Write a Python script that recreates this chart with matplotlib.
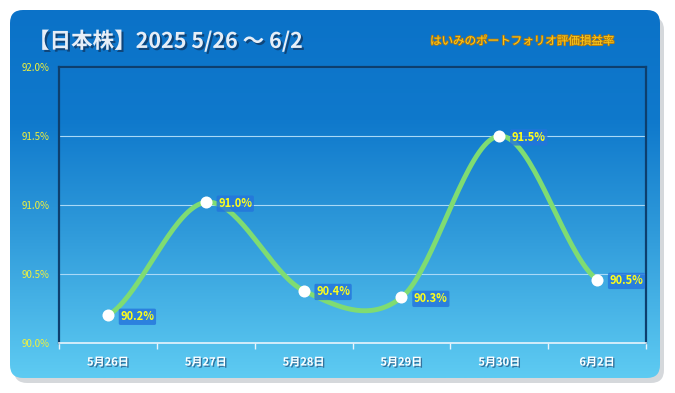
import numpy as np
import matplotlib
matplotlib.use('Agg')
import matplotlib.pyplot as plt
from matplotlib.patches import FancyBboxPatch
from matplotlib.colors import LinearSegmentedColormap
import matplotlib.patheffects as pe

plt.rcParams['font.family'] = ['Noto Sans CJK JP', 'DejaVu Sans']

dates = ['5月26日', '5月27日', '5月28日', '5月29日', '5月30日', '6月2日']
values = [90.20, 91.02, 90.38, 90.33, 91.50, 90.46]
labels = ['90.2%', '91.0%', '90.4%', '90.3%', '91.5%', '90.5%']
yticks = [90.0, 90.5, 91.0, 91.5, 92.0]

W, H = 675, 393
fig = plt.figure(figsize=(W / 100, H / 100), dpi=100)
fig.patch.set_facecolor('white')

# background panel with gradient and shadow
bg = fig.add_axes([0, 0, 1, 1], zorder=-1)
bg.set_xlim(0, W)
bg.set_ylim(0, H)
bg.axis('off')
shadow = FancyBboxPatch((14, 10), 650, 366, boxstyle='round,pad=0,rounding_size=13',
                        fc='#c4c8cd', ec='none', alpha=0.7, zorder=0)
bg.add_patch(shadow)
panel = FancyBboxPatch((10, 15), 650, 368, boxstyle='round,pad=0,rounding_size=13',
                       fc='none', ec='none', zorder=0)
bg.add_patch(panel)
cmap = LinearSegmentedColormap.from_list('bluegrad', [
    (0.0, '#0b72c8'), (0.3, '#0f79cc'), (0.6, '#2f9ada'), (1.0, '#5ecbf2')])
grad = np.linspace(0, 1, 256).reshape(-1, 1)
im = bg.imshow(grad, cmap=cmap, extent=[10, 660, 15, 383], origin='upper',
               aspect='auto', zorder=2)
im.set_clip_path(panel)

# plot area
ax = fig.add_axes([59 / W, 50 / H, 587 / W, 276 / H])
ax.set_facecolor('none')
x = np.arange(len(values))

# smoothed line through the points (Catmull-Rom, like a spreadsheet smooth line)
pts = np.array(values)
ext = np.concatenate([[2 * pts[0] - pts[1]], pts, [2 * pts[-1] - pts[-2]]])
xs, ys = [], []
for i in range(len(pts) - 1):
    p0, p1, p2, p3 = ext[i], ext[i + 1], ext[i + 2], ext[i + 3]
    m1 = (p2 - p0) / 2
    m2 = (p3 - p1) / 2
    if i == 0:
        m1 = (p2 - p1) * 0.5
    if i == len(pts) - 2:
        m2 = (p2 - p1) * 0.5
    t = np.linspace(0, 1, 40)
    h00 = 2 * t**3 - 3 * t**2 + 1
    h10 = t**3 - 2 * t**2 + t
    h01 = -2 * t**3 + 3 * t**2
    h11 = t**3 - t**2
    xs.append(i + t)
    ys.append(h00 * p1 + h10 * m1 + h01 * p2 + h11 * m2)
ax.plot(np.concatenate(xs), np.concatenate(ys), color='#7fdc72', lw=3.5,
        solid_capstyle='round', zorder=3)
ax.scatter(x, values, s=75, color='white', zorder=4, linewidths=0)

for xi, v, lab in zip(x, values, labels):
    ax.annotate(lab, (xi, v), xytext=(9, -1), textcoords='offset points',
                va='center', ha='left', color='#ffff1a', fontsize=8, fontweight='bold',
                bbox=dict(boxstyle='round,pad=0.15', fc='#2474dc', ec='none', alpha=0.8),
                zorder=5)

ax.set_xlim(-0.5, len(values) - 0.5)
ax.set_ylim(90, 92)
ax.set_yticks(yticks)
ax.set_yticklabels([f'{t:.1f}%' for t in yticks], color='#f2f23a', fontsize=7)
ax.tick_params(axis='y', length=0, pad=7)
ax.grid(axis='y', color='#a9d9f7', lw=0.8)
ax.set_xticks(x)
ax.set_xticklabels(dates, color='white', fontsize=8, fontweight='bold')
for t in ax.get_xticklabels():
    t.set_path_effects([pe.withSimplePatchShadow(offset=(1, -1), shadow_rgbFace='#2a5f8a', alpha=0.8)])
ax.tick_params(axis='x', length=0, pad=9)
ax.set_xticks(np.arange(-0.5, len(values)), minor=True)
ax.tick_params(axis='x', which='minor', length=4, color='#e8f4fc', width=1)

for s in ['left', 'top', 'right']:
    ax.spines[s].set_color('#0d3f6e')
    ax.spines[s].set_linewidth(1.6)
ax.spines['bottom'].set_color('#e8f4fc')
ax.spines['bottom'].set_linewidth(1.2)

fig.text(28 / W, 1 - 41 / H, '【日本株】2025 5/26 〜 6/2', color='#e6eef7', fontsize=15.5,
         fontweight='bold', va='center', ha='left',
         path_effects=[pe.withSimplePatchShadow(offset=(1.5, -1.5), shadow_rgbFace='#103a66', alpha=0.8)])
fig.text(430 / W, 1 - 41 / H, 'はいみのポートフォリオ評価損益率', color='#ffcc1a', fontsize=8.3,
         style='italic', va='center', ha='left',
         path_effects=[pe.withStroke(linewidth=1.2, foreground='#b07a10')])

fig.savefig('out.png', dpi=100)
